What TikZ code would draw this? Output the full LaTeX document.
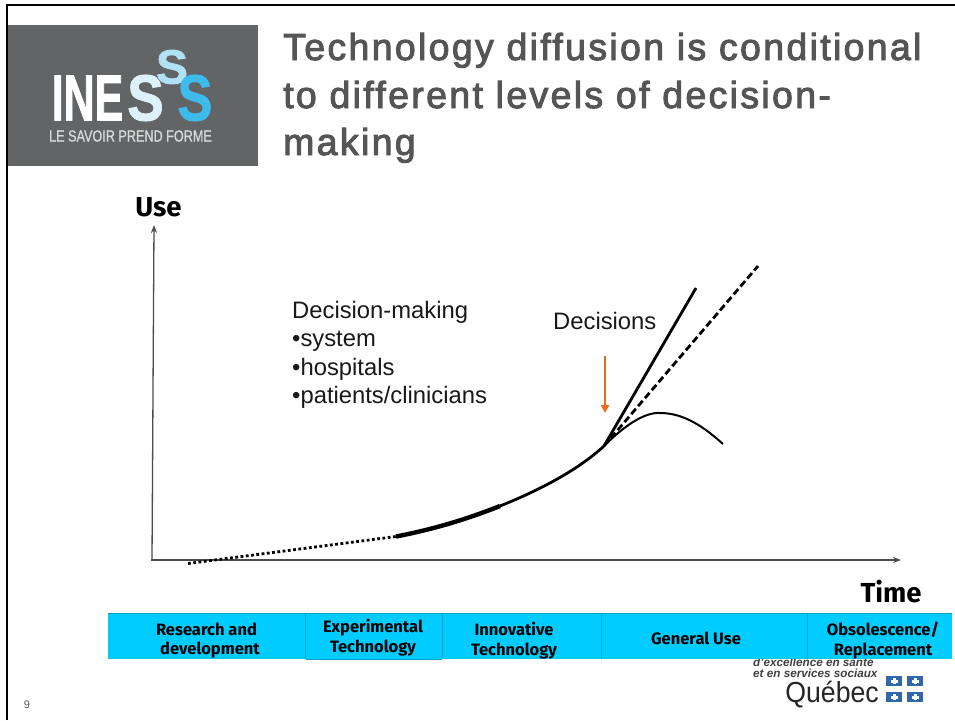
\documentclass[tikz,border=0pt]{standalone}
\usepackage{fontspec}
\setmainfont{Liberation Sans}
\newfontfamily\comic{Fira Sans}[BoldFont={Fira Sans Bold}]
\newfontfamily\titlef{Liberation Sans}[FakeBold=2.6,LetterSpace=6.2]
\newfontfamily\logof{Liberation Sans}[BoldFeatures={FakeBold=1.6}]
\newfontfamily\tagf{Liberation Sans}[FakeBold=1]
\usetikzlibrary{arrows.meta}
\definecolor{titlegray}{HTML}{555555}
\definecolor{logogray}{HTML}{636466}
\definecolor{barblue}{HTML}{00CCFF}
\definecolor{barline}{HTML}{0AA0CC}
\definecolor{arroworange}{HTML}{F26A1B}
\definecolor{sone}{HTML}{DDF1FA}
\definecolor{stwo}{HTML}{B0E1F5}
\definecolor{sthree}{HTML}{3DBBEB}
\definecolor{qblue}{HTML}{2F68AC}
\tikzset{
  x=1pt,y=-1pt,
  titletext/.style={anchor=base west,inner sep=0,font=\fontsize{37.5}{37.5}\selectfont\titlef,text=titlegray},
  bodytext/.style={anchor=base west,inner sep=0,font=\fontsize{23.8}{23.8}\selectfont,text=black!90},
  axislabel/.style={inner sep=0,font=\fontsize{27.5}{27.5}\selectfont\comic\bfseries},
  stage/.style={fill=barblue,draw=none,minimum height=46pt,inner sep=0,anchor=north west},
  stagetext/.style={align=center,inner sep=0,font=\fontsize{16.5}{19.5}\selectfont\comic\bfseries},
  axis/.style={draw=black!70,line width=1.3pt,-{Stealth[length=8pt,width=6pt]}},
  curve/.style={line width=2.8pt,black},
  logoletter/.style={inner sep=0,font=\fontsize{65}{65}\selectfont\logof\bfseries},
  signature/.style={inner sep=0,anchor=base west,font=\fontsize{11.7}{12}\selectfont\bfseries\itshape,text=black!75},
}
\begin{document}
\begin{tikzpicture}
\useasboundingbox (0,0) rectangle (955,720);
\fill[white] (0,0) rectangle (955,720);
% frame
\draw[black,line width=2.6pt] (7,720) -- (7,5) -- (955,5);
% logo
\fill[logogray] (8,25) rectangle (258,166);
\node[logoletter,text=white,xscale=.66] (ines) at (87.5,98) {INE};
\node[logoletter,text=sone,xscale=.84] (s1) at (145.5,98) {S};
\node[logoletter,text=stwo,font=\fontsize{48}{48}\selectfont\logof\bfseries] (s2) at (172,67) {S};
\node[logoletter,text=sthree,xscale=.8] (s3) at (195,98) {S};
\node[inner sep=0,text=white!85!black,xscale=.79,font=\fontsize{16}{16}\selectfont\tagf] (tag) at (130.5,136) {LE SAVOIR PREND FORME};
% title
\node[titletext] (t1) at (283,60) {Technology diffusion is conditional};
\node[titletext] (t2) at (283,108) {to different levels of decision-};
\node[titletext] (t3) at (283,155) {making};
% axes
\coordinate (ybase) at (152,560);
\coordinate (ytip) at (154,225);
\coordinate (xbase) at (151,560);
\coordinate (xtip) at (901,560);
\draw[axis] (ybase) -- (ytip);
\draw[axis] (xbase) -- (xtip);
\node[axislabel] (use) at (158.5,207) {Use};
\node[axislabel] (time) at (891,592) {Time};
% text
\node[bodytext] (dm) at (292,318) {Decision-making};
\node[bodytext] (b1) at (292,346) {•system};
\node[bodytext] (b2) at (292,375) {•hospitals};
\node[bodytext] (b3) at (292,403) {•patients/clinicians};
\node[bodytext] (dec) at (553,329) {Decisions};
% curves
\coordinate (c0) at (188,563.5);
\coordinate (c1) at (396,536.5);
\coordinate (c2) at (604,446);
\draw[black,line width=2.8pt,dash pattern=on 2.8pt off 2.5pt] (c0) -- (c1);
\draw[line width=4.4pt] (c1) .. controls (430,530) and (465,520) .. (500,506);
\draw[curve] (500,506) .. controls (540,490) and (578,470) .. (c2);
\coordinate (up) at (696,288);
\coordinate (mid) at (758,266);
\coordinate (end) at (723,444);
\draw[curve] (c2) -- (up);
\draw[curve,dash pattern=on 7pt off 3.5pt] (c2) -- (mid);
\draw[curve,line width=2pt] (c2) .. controls (625,425) and (645,412) .. (660,413) .. controls (685,413) and (705,428) .. (end);
\coordinate (a1) at (605,356);
\coordinate (a2) at (605,413);
\draw[arroworange,line width=2.4pt,-{Triangle[length=8pt,width=8pt]}] (a1) -- (a2);
% Quebec signature (partly under the bar)
\node[signature] (q1) at (753,666) {d’excellence en santé};
\node[signature] (q2) at (753,677) {et en services sociaux};
\node[inner sep=0,anchor=base east,xscale=.92,font=\fontsize{29}{29}\selectfont,text=black!85] (q3) at (879,702) {Québec};
\foreach \qx/\qy in {886/676,907/676,886/692,907/692}{
  \fill[qblue] (\qx,\qy) rectangle ++(16,10);
  \fill[white] (\qx+6.5,\qy+2) rectangle ++(3,6);
  \fill[white] (\qx+4.5,\qy+3.5) rectangle ++(7,3);
}
% stages
\node[stage,minimum width=197.5pt] (s-a) at (108,613) {};
\node[stage,minimum width=136.5pt] (s-b) at (305.5,613) {};
\node[stage,minimum width=159pt] (s-c) at (442,613) {};
\node[stage,minimum width=206pt] (s-d) at (601,613) {};
\node[stage,minimum width=145pt] (s-e) at (807,613) {};
\draw[barline,line width=.6pt] (s-a.north west) -- (s-e.north east);
\draw[barline,line width=.6pt] (s-b.north west) -- (s-b.south west);
\draw[barline,line width=.6pt] (s-b.north east) -- (s-b.south east);
\draw[barline,line width=1pt] (s-b.south west) -- (s-b.south east);
\draw[barline,line width=.6pt] (s-d.north west) -- (s-d.south west);
\draw[barline,line width=.6pt] (s-e.north west) -- (s-e.south west);
\node[stagetext] (l-a) at (206.5,640.5) {Research and\\ \hspace{7pt}development};
\node[stagetext] (l-b) at (373,637.5) {Experimental\\Technology};
\node[stagetext] (l-c) at (514,640.5) {Innovative\\Technology};
\node[stagetext] (l-d) at (696,638.5) {General Use};
\node[stagetext] (l-e) at (883,640.5) {Obsolescence/\\Replacement};
\node[inner sep=0,font=\fontsize{11}{11}\selectfont,text=black!65] (pg) at (27,705) {9};
\end{tikzpicture}
\end{document}
